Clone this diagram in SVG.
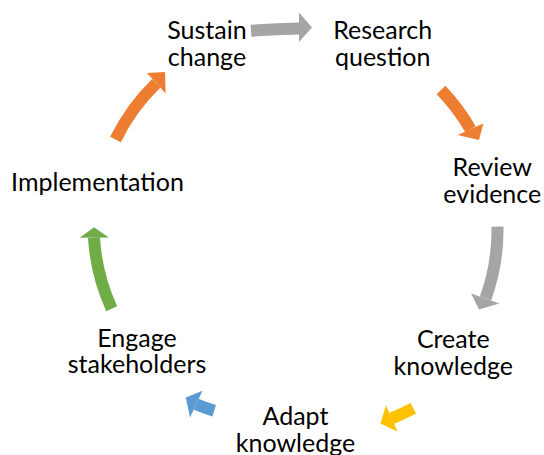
<svg xmlns="http://www.w3.org/2000/svg" width="544" height="455" viewBox="0 0 544 455">
<style>
  .lbl { font-family: Lato, "Open Sans", "Liberation Sans", sans-serif; font-size: 25px; fill: #000; text-anchor: middle; }
  .shaft { fill: none; stroke-width: 12; stroke-linecap: butt; }
  .gray .shaft { stroke: #A5A5A5; } .gray .head { fill: #A5A5A5; }
  .orange .shaft { stroke: #ED7D31; } .orange .head { fill: #ED7D31; }
  .yellow .shaft { stroke: #FFC000; } .yellow .head { fill: #FFC000; }
  .blue .shaft { stroke: #5B9BD5; } .blue .head { fill: #5B9BD5; }
  .green .shaft { stroke: #70AD47; } .green .head { fill: #70AD47; }
</style>
<rect width="544" height="455" fill="#fff"/>
<g id="connectors">
  <g id="c-sustain-research" class="gray">
    <path class="shaft" d="M251,30.8 Q275,29 299.5,28.5"/>
    <polygon class="head" points="299,12.5 312,27.5 299,42"/>
  </g>
  <g id="c-research-review" class="orange">
    <path class="shaft" d="M441,90 A202,202 0 0 1 470.5,129.2"/>
    <polygon class="head" points="457.7,135 483.3,123.5 479,140"/>
  </g>
  <g id="c-review-create" class="gray">
    <path class="shaft" d="M497.5,226.7 A203,203 0 0 1 485.5,298.5"/>
    <polygon class="head" points="471,293.5 499.3,303.5 479,309.5"/>
  </g>
  <g id="c-create-adapt" class="yellow">
    <path class="shaft" d="M413.3,408.3 A215,215 0 0 1 391.7,418.3"/>
    <polygon class="head" points="386,405.2 397.5,431.5 380.5,423.5"/>
  </g>
  <g id="c-adapt-engage" class="blue">
    <path class="shaft" d="M214.2,410.8 A201,201 0 0 1 196.2,404.2"/>
    <polygon class="head" points="202.5,390.8 190,417.6 185.8,397.5"/>
  </g>
  <g id="c-engage-impl" class="green">
    <path class="shaft" d="M111.7,308.8 A201,201 0 0 1 94,237.7"/>
    <polygon class="head" points="79.7,237.8 108.9,237.5 94,227.2"/>
  </g>
  <g id="c-impl-sustain" class="orange">
    <path class="shaft" d="M115.5,139.5 A201,201 0 0 1 156.3,83.3"/>
    <polygon class="head" points="147,73 165.6,93.6 165,72"/>
  </g>
</g>
<g id="n-sustain"><text class="lbl" x="207" y="39.3">Sustain</text><text class="lbl" x="207" y="66">change</text></g>
<g id="n-research"><text class="lbl" x="382.7" y="39.3">Research</text><text class="lbl" x="382.7" y="66">question</text></g>
<g id="n-review"><text class="lbl" x="492.3" y="176">Review</text><text class="lbl" x="492.3" y="202.7">evidence</text></g>
<g id="n-create"><text class="lbl" x="453.3" y="348.3">Create</text><text class="lbl" x="453.3" y="375">knowledge</text></g>
<g id="n-adapt"><text class="lbl" x="295.5" y="425">Adapt</text><text class="lbl" x="295.5" y="451.7">knowledge</text></g>
<g id="n-engage"><text class="lbl" x="137" y="346.7">Engage</text><text class="lbl" x="137" y="373.3">stakeholders</text></g>
<g id="n-impl"><text class="lbl" x="97.5" y="191">Implementation</text></g>
</svg>
